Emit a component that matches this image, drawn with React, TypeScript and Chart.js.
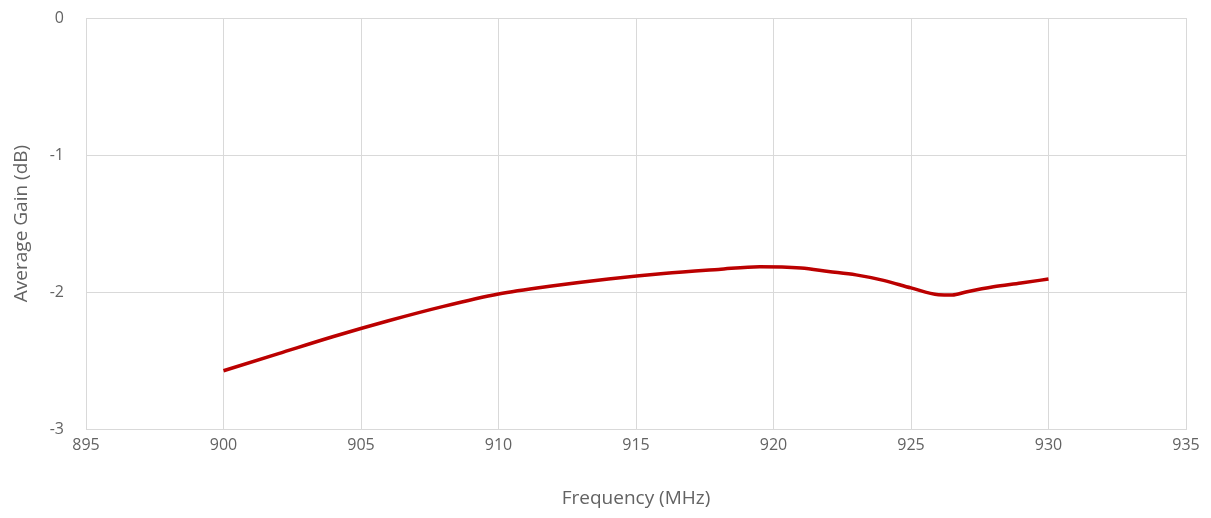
import React, { useEffect, useRef } from "react";
import { Chart, registerables } from "chart.js";

Chart.register(...registerables);

const frequencies = [900, 902, 904, 906, 908, 910, 912, 914, 916, 918, 919.5, 921, 922, 923, 924, 925, 926, 926.5, 927, 928, 929, 930];
const gains = [-2.575, -2.45, -2.325, -2.21, -2.105, -2.015, -1.955, -1.905, -1.865, -1.835, -1.815, -1.825, -1.85, -1.875, -1.915, -1.97, -2.02, -2.022, -2.0, -1.962, -1.935, -1.905];

const xTitle = "Frequency (MHz)";
const yTitle = "Average Gain (dB)";

const TEXT = "#636363";
const GRID = "#d9d9d9";
const FONT = "'Open Sans', 'Noto Sans', sans-serif";

export default function App() {
  const ref = useRef<HTMLCanvasElement | null>(null);
  useEffect(() => {
    if (!ref.current) return;
    const chart = new Chart(ref.current, {
      type: "line",
      data: {
        datasets: [
          {
            data: frequencies.map((f, i) => ({ x: f, y: gains[i] })),
            borderColor: "#bb0000",
            backgroundColor: "#bb0000",
            borderWidth: 3.5,
            pointRadius: 0,
            tension: 0.4,
            cubicInterpolationMode: "monotone",
          },
        ],
      },
      options: {
        responsive: false,
        animation: false,
        layout: { padding: { top: 18, right: 25, left: 0, bottom: 0 } },
        plugins: { legend: { display: false }, tooltip: { enabled: false } },
        scales: {
          x: {
            type: "linear",
            min: 895,
            max: 935,
            ticks: { stepSize: 5, color: TEXT, font: { family: FONT, size: 16 }, padding: 7, maxRotation: 0 },
            grid: { color: GRID, drawTicks: false },
            border: { color: GRID },
            title: { display: true, text: xTitle, color: TEXT, font: { family: FONT, size: 19 }, padding: { top: 0, bottom: 8 } },
            afterFit: (s: any) => { s.height = 89; s.paddingLeft = 0; s.paddingRight = 0; },
          },
          y: {
            min: -3,
            max: 0,
            ticks: { stepSize: 1, color: TEXT, font: { family: FONT, size: 16 }, padding: 22 },
            grid: { color: GRID, drawTicks: false },
            border: { color: GRID },
            title: { display: true, text: yTitle, color: TEXT, font: { family: FONT, size: 19 }, padding: { top: 10, bottom: 0 } },
            afterFit: (s: any) => { s.width = 86; s.paddingTop = 0; s.paddingBottom = 0; },
          },
        },
      },
    });
    return () => chart.destroy();
  }, []);
  return (
    <div style={{ position: "fixed", left: 0, top: 0, width: 1211, height: 518, background: "#fff" }}>
      <canvas ref={ref} width={1211} height={518} style={{ display: "block" }} />
    </div>
  );
}
